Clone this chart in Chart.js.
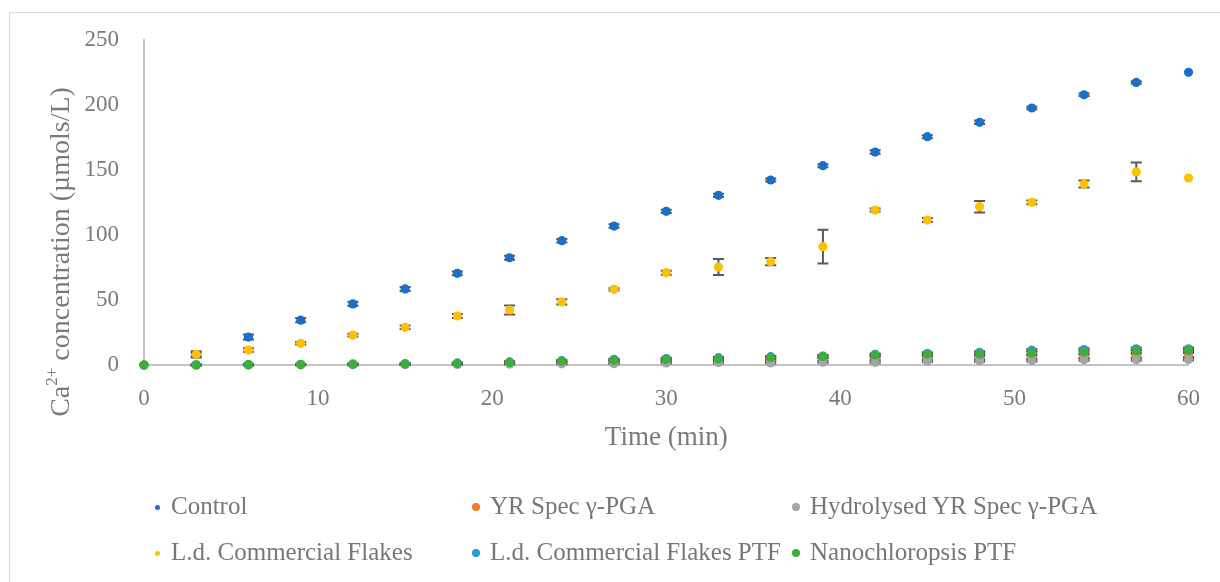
<!DOCTYPE html>
<html>
<head>
<meta charset="utf-8">
<script src="https://cdn.jsdelivr.net/npm/chart.js@4.4.1/dist/chart.umd.min.js"></script>
<style>
  html, body { margin: 0; padding: 0; background: #ffffff; }
  #wrap { position: relative; width: 1220px; height: 582px; overflow: hidden; background: #fff; }
  #frame { position: absolute; left: 9px; top: 12px; width: 1240px; height: 600px; border: 1px solid #d9d9d9; box-sizing: border-box; }
  canvas { position: absolute; left: 0; top: 0; }
  .lg-text { position: absolute; font-family: "Liberation Serif", serif; font-size: 25px; color: #777777; white-space: nowrap; line-height: 30px; }
  .lg-dot { position: absolute; border-radius: 50%; }
</style>
</head>
<body>
<div id="wrap">
  <div id="frame"></div>
  <canvas id="chart" width="1220" height="582"></canvas>
  <div id="legend"></div>
</div>
<script>
// Sampling times (min)
const times = [0, 3, 6, 9, 12, 15, 18, 21, 24, 27, 30, 33, 36, 39, 42, 45, 48, 51, 54, 57, 60];

// Ca2+ concentration (µmols/L) and standard deviations per treatment
const controlVals = [0, 8, 21.5, 34.5, 47, 58.5, 70.5, 82.5, 95.6, 106.9, 118.2, 130.5, 142.3, 153.3, 163.8, 175.6, 186.7, 197.7, 207.9, 217.4, 225.1];
const controlErr  = [0, 1.5, 1.9, 1.6, 1.6, 1.5, 1.5, 1.5, 1.4, 1.3, 1.3, 1.2, 1.2, 1.2, 1.3, 1.1, 1.3, 1.0, 1.0, 0.8, 0];

const yrSpecVals = [0, 0, 0.1, 0.2, 0.3, 0.5, 0.8, 1.2, 1.6, 2.2, 2.9, 3.5, 3.5, 4.2, 4.8, 5.3, 5.6, 6.1, 6.6, 7.2, 7.7];
const yrSpecErr  = [0, 0.3, 0.3, 0.3, 0.4, 0.4, 0.5, 0.5, 0.6, 0.6, 0.7, 0.8, 0.8, 0.9, 1.0, 1.0, 1.1, 1.2, 1.3, 1.4, 1.5];

const hydrolysedVals = [0, 0, 0, 0.1, 0.2, 0.3, 0.4, 0.7, 0.9, 1.0, 1.6, 1.9, 1.6, 2.1, 2.1, 2.9, 3.2, 3.4, 4.0, 4.0, 4.2];
const hydrolysedErr  = [0, 0.2, 0.2, 0.2, 0.3, 0.3, 0.3, 0.4, 0.4, 0.4, 0.5, 0.5, 0.5, 0.6, 0.6, 0.6, 0.7, 0.7, 0.8, 0.8, 0.8];

const flakesVals = [0, 8.2, 11.5, 16.7, 23, 29, 37.7, 42.3, 48.5, 58.2, 71.0, 75.4, 79.5, 91.0, 119.2, 111.5, 121.8, 125.1, 139.2, 148.5, 143.8];
const flakesErr  = [0, 2.4, 1.3, 1.0, 1.0, 1.3, 1.5, 3.5, 2.0, 0.8, 1.5, 6.2, 2.8, 13, 1.2, 1.5, 4.4, 1.5, 2.7, 7.2, 0];

const flakesPtfVals = [0, 0.1, 0.3, 0.5, 0.8, 1.1, 1.6, 2.4, 3.3, 4.4, 5.0, 5.6, 6.4, 6.9, 8.2, 8.8, 9.8, 11.4, 11.9, 12.5, 12.5];
const flakesPtfErr  = [0, 0.2, 0.2, 0.3, 0.3, 0.3, 0.4, 0.4, 0.5, 0.5, 0.6, 0.6, 0.6, 0.7, 0.7, 0.8, 0.8, 0.9, 0.9, 1.0, 1.0];

const nanoVals = [0, 0, 0.2, 0.3, 0.5, 0.7, 1.1, 2.0, 3.0, 3.6, 4.2, 4.8, 5.8, 6.6, 7.7, 8.5, 8.5, 9.3, 10.1, 10.9, 11.4];
const nanoErr  = [0, 0.2, 0.3, 0.3, 0.3, 0.4, 0.4, 0.5, 0.5, 0.6, 0.6, 0.7, 0.7, 0.8, 0.8, 0.9, 0.9, 1.0, 1.0, 1.1, 1.1];

const seriesNames  = ['Control', 'YR Spec \u03B3-PGA', 'Hydrolysed YR Spec \u03B3-PGA', 'L.d. Commercial Flakes', 'L.d. Commercial Flakes PTF', 'Nanochloropsis PTF'];
const seriesColors = ['#1a6fc9', '#ed7d31', '#a5a5a5', '#ffc000', '#2a9ad8', '#3cae3c'];
const seriesValues = [controlVals, yrSpecVals, hydrolysedVals, flakesVals, flakesPtfVals, nanoVals];
const seriesErrors = [controlErr, yrSpecErr, hydrolysedErr, flakesErr, flakesPtfErr, nanoErr];

// Axis ticks
const xTicks = [0, 10, 20, 30, 40, 50, 60];
const yTicks = [0, 50, 100, 150, 200, 250];

const FONT = 'Liberation Serif';
const GREY_TEXT = '#7a7a7a';

const datasets = seriesNames.map((name, i) => ({
  label: name,
  data: times.map((t, k) => ({ x: t, y: seriesValues[i][k] })),
  backgroundColor: seriesColors[i],
  borderColor: seriesColors[i],
  pointRadius: 4.6,
  pointBorderWidth: 0,
  showLine: false,
  clip: false,
  order: seriesNames.length - i   // later series on top
}));

// Vertical error bars with caps, drawn just before each series' markers
const errorBars = {
  id: 'errorBars',
  beforeDatasetDraw(chart, args) {
    const errs = seriesErrors[args.index];
    if (!errs) return;
    const xs = chart.scales.x, ys = chart.scales.y, ctx = chart.ctx;
    ctx.save();
    ctx.strokeStyle = '#595959';
    ctx.lineWidth = 2;
    const cap = 5.5;
    seriesValues[args.index].forEach((v, k) => {
      const e = errs[k];
      if (!e) return;
      const px = xs.getPixelForValue(times[k]);
      const top = ys.getPixelForValue(v + e);
      const bot = ys.getPixelForValue(v - e);
      ctx.beginPath();
      ctx.moveTo(px, top); ctx.lineTo(px, bot);
      ctx.moveTo(px - cap, top); ctx.lineTo(px + cap, top);
      ctx.moveTo(px - cap, bot); ctx.lineTo(px + cap, bot);
      ctx.stroke();
    });
    ctx.restore();
  }
};

// Rotated y-axis title with a superscript charge
const yTitle = {
  id: 'yTitle',
  afterDraw(chart) {
    const ctx = chart.ctx;
    const parts = [
      { t: 'Ca', f: '28px "' + FONT + '"', dy: 0 },
      { t: '2+', f: '17px "' + FONT + '"', dy: -9 },
      { t: ' concentration (\u00B5mols/L)', f: '28px "' + FONT + '"', dy: 0 }
    ];
    ctx.save();
    let total = 0;
    parts.forEach(p => { ctx.font = p.f; p.w = ctx.measureText(p.t).width; total += p.w; });
    ctx.translate(62, 252);
    ctx.rotate(-Math.PI / 2);
    ctx.fillStyle = GREY_TEXT;
    ctx.textBaseline = 'middle';
    ctx.textAlign = 'left';
    let x = -total / 2;
    parts.forEach(p => { ctx.font = p.f; ctx.fillText(p.t, x, p.dy); x += p.w; });
    ctx.restore();
  }
};

new Chart(document.getElementById('chart'), {
  type: 'scatter',
  data: { datasets },
  options: {
    responsive: false,
    animation: false,
    devicePixelRatio: 1,
    layout: { padding: { left: 84, right: 30, top: 40, bottom: 128 } },
    plugins: { legend: { display: false }, tooltip: { enabled: false } },
    scales: {
      x: {
        type: 'linear', min: 0, max: 60,
        grid: { display: false, drawTicks: false },
        border: { display: true, color: '#c4c4c4', width: 2 },
        afterBuildTicks(s) { s.ticks = xTicks.map(v => ({ value: v })); },
        ticks: { color: GREY_TEXT, font: { family: FONT, size: 23 }, padding: 20, maxRotation: 0 },
        title: { display: true, text: 'Time (min)', color: GREY_TEXT, font: { family: FONT, size: 27 }, padding: { top: 0, bottom: 0 } },
        afterFit(s) { s.height = 89; }
      },
      y: {
        type: 'linear', min: 0, max: 250,
        grid: { display: false, drawTicks: false },
        border: { display: true, color: '#c4c4c4', width: 2 },
        afterBuildTicks(s) { s.ticks = yTicks.map(v => ({ value: v })); },
        ticks: { color: GREY_TEXT, font: { family: FONT, size: 23 }, padding: 25 },
        afterFit(s) { s.width = 60; }
      }
    }
  },
  plugins: [errorBars, yTitle]
});

// Legend in three columns, two rows
const legendEl = document.getElementById('legend');
const colX = [157, 476, 796];
const rowY = [507, 553];
const dotR = [2.5, 3.7, 3.7, 2.5, 3.7, 4];
seriesNames.forEach((name, i) => {
  const cx = colX[i % 3], cy = rowY[Math.floor(i / 3)];
  const dot = document.createElement('div');
  dot.className = 'lg-dot';
  dot.style.left = (cx - dotR[i]) + 'px';
  dot.style.top = (cy - dotR[i]) + 'px';
  dot.style.width = dot.style.height = (2 * dotR[i]) + 'px';
  dot.style.background = seriesColors[i];
  legendEl.appendChild(dot);
  const txt = document.createElement('div');
  txt.className = 'lg-text';
  txt.textContent = name;
  txt.style.left = (cx + 14) + 'px';
  txt.style.top = (cy - 16) + 'px';
  legendEl.appendChild(txt);
});
</script>
</body>
</html>
